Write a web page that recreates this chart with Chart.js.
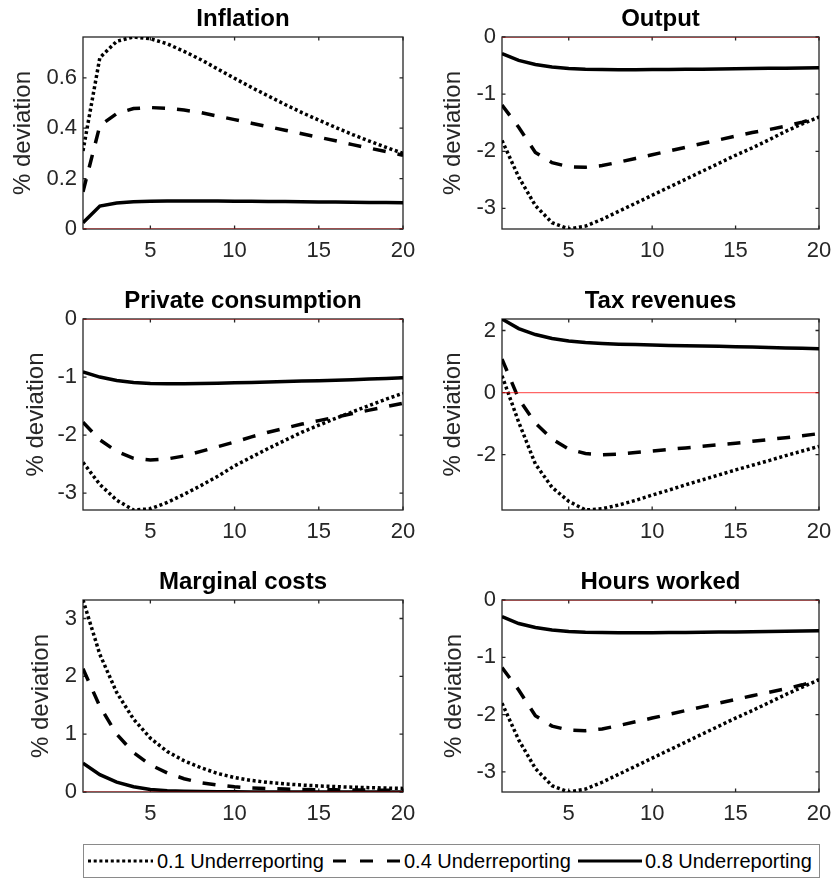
<!DOCTYPE html>
<html>
<head>
<meta charset="utf-8">
<script src="https://cdn.jsdelivr.net/npm/chart.js@4.4.0/dist/chart.umd.min.js"></script>
<style>
  body { margin: 0; background: #fff; width: 833px; height: 879px; position: relative; overflow: hidden; }
  canvas.panel { position: absolute; }
  #legend { position: absolute; left: 83px; top: 844px; }
</style>
</head>
<body>
<svg id="legend" width="737" height="34"></svg>
<script>
// Horizon (quarters) and the zero reference line
const periods = [1, 2, 3, 4, 5, 6, 7, 8, 9, 10, 11, 12, 13, 14, 15, 16, 17, 18, 19, 20];
const zeroLine = [0, 0, 0, 0, 0, 0, 0, 0, 0, 0, 0, 0, 0, 0, 0, 0, 0, 0, 0, 0];
const seriesNames = ['0.1 Underreporting', '0.4 Underreporting', '0.8 Underreporting'];
const xTicks = [5, 10, 15, 20];

// Inflation
const infl01 = [0.31, 0.68, 0.745, 0.762, 0.755, 0.735, 0.705, 0.672, 0.635, 0.598, 0.562, 0.528, 0.494, 0.462, 0.432, 0.403, 0.375, 0.349, 0.324, 0.300];
const infl04 = [0.148, 0.41, 0.458, 0.478, 0.482, 0.479, 0.472, 0.462, 0.448, 0.434, 0.420, 0.406, 0.392, 0.378, 0.364, 0.350, 0.335, 0.321, 0.307, 0.293];
const infl08 = [0.025, 0.091, 0.103, 0.108, 0.110, 0.111, 0.111, 0.111, 0.111, 0.110, 0.110, 0.109, 0.109, 0.108, 0.107, 0.107, 0.106, 0.105, 0.105, 0.104];
const inflTicks = [0, 0.2, 0.4, 0.6];

// Output
const out01 = [-1.81, -2.45, -2.95, -3.25, -3.36, -3.31, -3.19, -3.05, -2.91, -2.77, -2.63, -2.49, -2.35, -2.21, -2.07, -1.94, -1.80, -1.65, -1.52, -1.40];
const out04 = [-1.19, -1.58, -2.02, -2.20, -2.27, -2.28, -2.25, -2.19, -2.125, -2.06, -1.995, -1.93, -1.865, -1.80, -1.735, -1.67, -1.62, -1.56, -1.49, -1.40];
const out08 = [-0.29, -0.41, -0.48, -0.525, -0.55, -0.563, -0.568, -0.571, -0.571, -0.570, -0.568, -0.566, -0.563, -0.560, -0.557, -0.553, -0.549, -0.545, -0.541, -0.536];
const outTicks = [-3, -2, -1, 0];

// Private consumption
const pc01 = [-2.47, -2.85, -3.12, -3.29, -3.27, -3.16, -3.02, -2.87, -2.71, -2.53, -2.38, -2.23, -2.09, -1.95, -1.83, -1.71, -1.60, -1.49, -1.38, -1.28];
const pc04 = [-1.78, -2.08, -2.28, -2.40, -2.43, -2.41, -2.36, -2.28, -2.20, -2.12, -2.03, -1.95, -1.88, -1.81, -1.75, -1.69, -1.63, -1.57, -1.51, -1.45];
const pc08 = [-0.91, -1.00, -1.06, -1.095, -1.11, -1.115, -1.115, -1.11, -1.105, -1.10, -1.092, -1.085, -1.077, -1.07, -1.062, -1.055, -1.047, -1.035, -1.025, -1.012];
const pcTicks = [-3, -2, -1, 0];

// Tax revenues
const tax01 = [0.54, -0.95, -2.30, -3.05, -3.50, -3.78, -3.74, -3.62, -3.47, -3.30, -3.14, -2.97, -2.81, -2.65, -2.49, -2.34, -2.19, -2.03, -1.88, -1.73];
const tax04 = [1.08, -0.20, -0.98, -1.50, -1.82, -1.96, -2.00, -1.98, -1.93, -1.88, -1.83, -1.78, -1.73, -1.68, -1.63, -1.57, -1.51, -1.45, -1.39, -1.32];
const tax08 = [2.37, 2.06, 1.87, 1.74, 1.66, 1.61, 1.58, 1.56, 1.545, 1.53, 1.52, 1.51, 1.50, 1.49, 1.48, 1.47, 1.455, 1.44, 1.425, 1.41];
const taxTicks = [-2, 0, 2];

// Marginal costs
const mc01 = [3.32, 2.38, 1.72, 1.26, 0.93, 0.70, 0.54, 0.42, 0.32, 0.25, 0.20, 0.165, 0.14, 0.12, 0.105, 0.093, 0.083, 0.075, 0.068, 0.062];
const mc04 = [2.13, 1.48, 1.00, 0.68, 0.47, 0.33, 0.23, 0.16, 0.12, 0.09, 0.07, 0.06, 0.05, 0.045, 0.04, 0.037, 0.035, 0.033, 0.031, 0.03];
const mc08 = [0.50, 0.30, 0.17, 0.09, 0.045, 0.022, 0.012, 0.007, 0.004, 0.003, 0.002, 0.001, 0.001, 0, 0, 0, 0, 0, 0, 0];
const mcTicks = [0, 1, 2, 3];

// Hours worked
const hw01 = [-1.80, -2.44, -2.94, -3.24, -3.35, -3.30, -3.18, -3.04, -2.90, -2.76, -2.62, -2.48, -2.34, -2.20, -2.06, -1.93, -1.79, -1.65, -1.52, -1.39];
const hw04 = [-1.18, -1.57, -2.02, -2.20, -2.27, -2.28, -2.25, -2.19, -2.125, -2.06, -1.995, -1.93, -1.865, -1.80, -1.735, -1.67, -1.61, -1.55, -1.48, -1.40];
const hw08 = [-0.29, -0.41, -0.48, -0.525, -0.55, -0.563, -0.568, -0.571, -0.571, -0.570, -0.568, -0.566, -0.563, -0.560, -0.557, -0.553, -0.549, -0.545, -0.541, -0.536];
const hwTicks = [-3, -2, -1, 0];

const FONT = '"Liberation Sans", Arial, Helvetica, sans-serif';
const lineStyles = [
  { dash: [3, 2.7], legendDash: '3 2.7' },   // dotted
  { dash: [13, 12], legendDash: '13 14' },   // dashed
  { dash: [], legendDash: null }             // solid
];

// plot area of each subplot on the page (x, y, w, h) and gap to the y label
const panels = [
  { title: 'Inflation',           series: [infl01, infl04, infl08], yTicks: inflTicks, x: 83,  y: 37,  w: 320, h: 192, gap: 60 },
  { title: 'Output',              series: [out01, out04, out08],    yTicks: outTicks,  x: 502, y: 37,  w: 317, h: 192, gap: 49 },
  { title: 'Private consumption', series: [pc01, pc04, pc08],       yTicks: pcTicks,   x: 83,  y: 319, w: 320, h: 191, gap: 47 },
  { title: 'Tax revenues',        series: [tax01, tax04, tax08],    yTicks: taxTicks,  x: 502, y: 319, w: 317, h: 191, gap: 49 },
  { title: 'Marginal costs',      series: [mc01, mc04, mc08],       yTicks: mcTicks,   x: 83,  y: 600, w: 320, h: 192, gap: 42 },
  { title: 'Hours worked',        series: [hw01, hw04, hw08],       yTicks: hwTicks,   x: 502, y: 600, w: 317, h: 192, gap: 48 }
];

// matlab style box with inward ticks on all four sides
const boxPlugin = {
  id: 'matlabBox',
  beforeDatasetsDraw(chart) {
    const { ctx, chartArea: a, scales } = chart;
    const tl = 3.5;
    ctx.save();
    ctx.strokeStyle = '#262626';
    ctx.lineWidth = 1.3;
    ctx.strokeRect(a.left, a.top, a.right - a.left, a.bottom - a.top);
    ctx.beginPath();
    scales.x.ticks.forEach(t => {
      const px = scales.x.getPixelForValue(t.value);
      ctx.moveTo(px, a.bottom); ctx.lineTo(px, a.bottom - tl);
      ctx.moveTo(px, a.top); ctx.lineTo(px, a.top + tl);
    });
    scales.y.ticks.forEach(t => {
      const py = scales.y.getPixelForValue(t.value);
      ctx.moveTo(a.left, py); ctx.lineTo(a.left + tl, py);
      ctx.moveTo(a.right, py); ctx.lineTo(a.right - tl, py);
    });
    ctx.stroke();
    ctx.restore();
  }
};

function makePanel(p) {
  const axisW = p.gap + 13;
  const titleH = 37, xAxisH = 36;
  const cw = axisW * 2 + p.w, ch = titleH + p.h + xAxisH;
  const canvas = document.createElement('canvas');
  canvas.className = 'panel';
  canvas.width = cw; canvas.height = ch;
  canvas.style.width = cw + 'px'; canvas.style.height = ch + 'px';
  canvas.style.left = (p.x - axisW) + 'px';
  canvas.style.top = (p.y - titleH) + 'px';
  document.body.appendChild(canvas);

  // axis tight, like matlab
  const all = p.series.flat().concat(zeroLine);
  const yMin = Math.min(...all), yMax = Math.max(...all);

  const datasets = p.series.map((s, i) => ({
    label: seriesNames[i],
    data: s,
    borderColor: '#000',
    borderWidth: 3.5,
    borderDash: lineStyles[i].dash,
    borderCapStyle: 'butt',
    pointRadius: 0,
    tension: 0,
    fill: false,
    order: 1
  }));
  datasets.push({
    label: 'zero',
    data: zeroLine,
    borderColor: 'rgba(255,0,0,0.6)',
    borderWidth: 1.2,
    pointRadius: 0,
    tension: 0,
    fill: false,
    order: 0
  });

  new Chart(canvas, {
    type: 'line',
    data: { labels: periods, datasets: datasets },
    options: {
      responsive: false,
      animation: false,
      events: [],
      layout: { padding: 0 },
      plugins: {
        legend: { display: false },
        tooltip: { enabled: false },
        title: {
          display: true,
          text: p.title,
          color: '#000',
          font: { family: FONT, size: 24, weight: 'bold', lineHeight: '28px' },
          padding: { top: 5, bottom: 4 }
        }
      },
      scales: {
        x: {
          type: 'linear',
          min: 1,
          max: 20,
          grid: { display: false, drawTicks: false },
          border: { display: false },
          afterBuildTicks: s => { s.ticks = xTicks.map(v => ({ value: v })); },
          afterFit: s => { s.height = xAxisH; },
          ticks: {
            color: '#262626',
            font: { family: FONT, size: 22 },
            padding: 9,
            maxRotation: 0,
            autoSkip: false,
            callback: v => String(v)
          }
        },
        y: {
          min: yMin,
          max: yMax,
          grid: { display: false, drawTicks: false },
          border: { display: false },
          afterBuildTicks: s => { s.ticks = p.yTicks.map(v => ({ value: v })); },
          afterFit: s => { s.width = axisW; },
          ticks: {
            color: '#262626',
            font: { family: FONT, size: 22 },
            padding: 6,
            autoSkip: false,
            callback: v => String(v)
          },
          title: {
            display: true,
            text: '% deviation',
            color: '#262626',
            font: { family: FONT, size: 24, lineHeight: '26px' },
            padding: 0
          }
        },
        // empty mirror axis so the plot sits centred under the title
        yMirror: {
          position: 'right',
          display: true,
          grid: { display: false, drawTicks: false },
          border: { display: false },
          ticks: { display: false },
          afterFit: s => { s.width = axisW; }
        }
      }
    },
    plugins: [boxPlugin]
  });
}

panels.forEach(makePanel);

// shared legend under the grid
const svgNS = 'http://www.w3.org/2000/svg';
const legend = document.getElementById('legend');
const legendItems = [
  { x1: 5, x2: 70, tx: 74 },
  { x1: 250, x2: 317, tx: 321 },
  { x1: 495, x2: 559, tx: 562 }
];
const frame = document.createElementNS(svgNS, 'rect');
frame.setAttribute('x', 0.5); frame.setAttribute('y', 0.5);
frame.setAttribute('width', 736); frame.setAttribute('height', 33);
frame.setAttribute('fill', '#fff'); frame.setAttribute('stroke', '#8a8a8a'); frame.setAttribute('stroke-width', 1);
legend.appendChild(frame);
legendItems.forEach((it, i) => {
  const ln = document.createElementNS(svgNS, 'line');
  ln.setAttribute('x1', it.x1); ln.setAttribute('x2', it.x2);
  ln.setAttribute('y1', 17); ln.setAttribute('y2', 17);
  ln.setAttribute('stroke', '#000'); ln.setAttribute('stroke-width', 3.2);
  if (lineStyles[i].legendDash) ln.setAttribute('stroke-dasharray', lineStyles[i].legendDash);
  legend.appendChild(ln);
  const tx = document.createElementNS(svgNS, 'text');
  tx.setAttribute('x', it.tx); tx.setAttribute('y', 24);
  tx.setAttribute('font-family', FONT); tx.setAttribute('font-size', 20);
  tx.setAttribute('fill', '#000');
  tx.textContent = seriesNames[i];
  legend.appendChild(tx);
});
</script>
</body>
</html>
